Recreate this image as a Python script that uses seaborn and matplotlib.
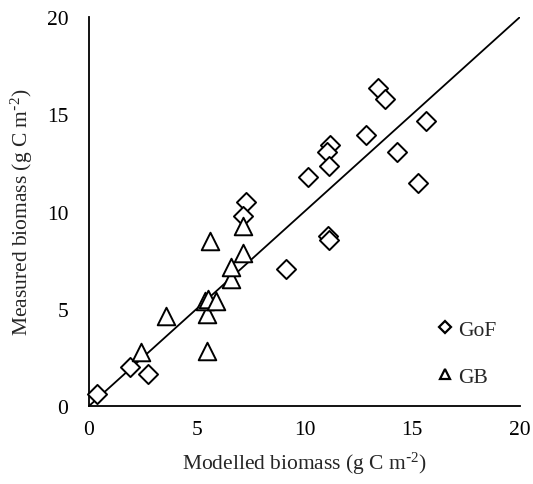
import numpy as np
import pandas as pd
import matplotlib
matplotlib.use("Agg")
import matplotlib.pyplot as plt
import seaborn as sns
from matplotlib.lines import Line2D

# GoF points (modelled, measured)
gof_modelled = [0.36, 1.90, 2.75, 7.27, 7.16, 13.40, 13.74, 15.62, 12.85, 11.18,
                11.06, 11.12, 10.15, 14.31, 15.25, 11.11, 11.15, 9.14]
gof_measured = [0.62, 1.99, 1.64, 10.47, 9.75, 16.33, 15.78, 14.67, 13.93, 13.42,
                13.04, 12.32, 11.79, 13.07, 11.47, 8.76, 8.53, 7.04]

# GB points (modelled, measured)
gb_modelled = [2.41, 3.57, 5.61, 5.46, 5.46, 5.38, 5.54, 5.89, 6.57, 6.57, 7.13, 7.16]
gb_measured = [2.76, 4.64, 8.50, 2.84, 4.73, 5.41, 5.50, 5.41, 6.53, 7.13, 7.87, 9.27]

ticks = [0, 5, 10, 15, 20]

gof = pd.DataFrame({"modelled": gof_modelled, "measured": gof_measured})
gb = pd.DataFrame({"modelled": gb_modelled, "measured": gb_measured})

sns.set_style("white")
plt.rcParams["font.family"] = ["Liberation Serif", "DejaVu Serif"]
plt.rcParams["mathtext.default"] = "regular"

fig = plt.figure(figsize=(5.33, 4.85), dpi=100)
ax = fig.add_axes([0.167, 0.1608, 0.8086, 0.8021])

sns.scatterplot(data=gof, x="modelled", y="measured", marker="D", s=95,
                facecolor="white", edgecolor="black", linewidth=1.4,
                ax=ax, clip_on=False, zorder=3)
sns.scatterplot(data=gb, x="modelled", y="measured", marker="^", s=160,
                facecolor="white", edgecolor="black", linewidth=1.4,
                ax=ax, clip_on=False, zorder=3)

# 1:1 line
ax.plot([0, 20], [0, 20], color="black", linewidth=1.3, zorder=2)

ax.set_xlim(0, 20)
ax.set_ylim(0, 20)
ax.set_xticks(ticks)
ax.set_yticks(ticks)
ax.tick_params(length=0, labelsize=15.5, colors="black")
ax.tick_params(axis="x", pad=10)
ax.tick_params(axis="y", pad=15)

for side in ["top", "right"]:
    ax.spines[side].set_visible(False)
for side in ["left", "bottom"]:
    ax.spines[side].set_color("black")
    ax.spines[side].set_linewidth(1.3)

ax.set_xlabel("Modelled biomass (g C m$^{\\text{-}2}$)", fontsize=15.5, labelpad=8)
ax.set_ylabel("Measured biomass (g C m$^{\\text{-}2}$)", fontsize=15.5, labelpad=8)

handles = [
    Line2D([], [], marker="D", linestyle="none", markersize=6,
           markerfacecolor="white", markeredgecolor="black", markeredgewidth=1.6),
    Line2D([], [], marker="^", linestyle="none", markersize=7,
           markerfacecolor="white", markeredgecolor="black", markeredgewidth=1.6),
]
ax.legend(handles, ["GoF", "GB"], loc="lower right", bbox_to_anchor=(0.99, 0.0),
          frameon=False, fontsize=15.5, handlelength=0.6, handletextpad=0.3,
          labelspacing=1.25)

fig.savefig("out.png", dpi=100)
